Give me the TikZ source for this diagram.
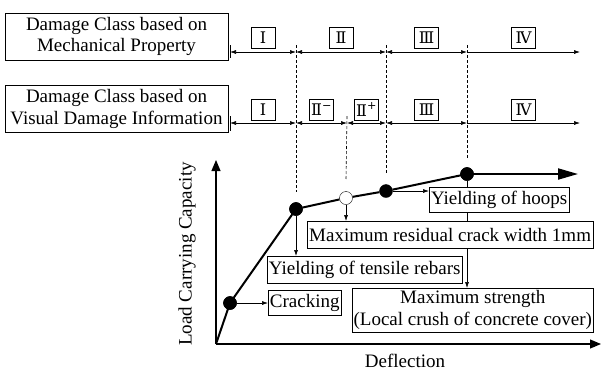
\documentclass[tikz,border=0pt]{standalone}
\usepackage{fontspec}
\setmainfont{Liberation Serif}
\newfontfamily\numfont{DejaVu Serif}
\usetikzlibrary{positioning,arrows.meta,calc}

\begin{document}
\begin{tikzpicture}[x=1bp,y=-1bp,
		font=\fontsize{19bp}{21.5bp}\selectfont,
		classbox/.style={draw,fill=white,align=center,minimum width=223bp,minimum height=47bp,inner sep=1pt,outer sep=0pt},
		numbox/.style={draw,inner sep=1pt,outer sep=0pt,minimum width=24bp,minimum height=21bp,font=\numfont\fontsize{16bp}{16bp}\selectfont},
		eventbox/.style={draw,fill=white,align=center,inner sep=2pt,outer sep=0pt,minimum height=25bp},
		dot/.style={circle,draw,fill,inner sep=0pt,minimum size=13bp},
		guide/.style={line width=0.6bp,dash pattern=on 3bp off 2bp},
		span/.style={{Latex[length=6bp,width=4bp]}-{Latex[length=6bp,width=4bp]},line width=0.6bp},
		lead/.style={-{Latex[length=6bp,width=4bp]},line width=0.6bp}]
		\useasboundingbox (0,0) rectangle (602,372);

		% class headers
		\node[classbox] (mech) at (116.5,36.5) {Damage Class based on\\Mechanical Property};
		\node[classbox] (visual) at (116.5,109) {Damage Class based on\\Visual Damage Information};

		% class limits
		\coordinate (m0) at (230,52);
		\coordinate (m1) at (296,52);
		\coordinate (m2) at (386,52);
		\coordinate (m3) at (467,52);
		\coordinate (m4) at (580,52);
		\coordinate (v0) at (230,123);
		\coordinate (v1) at (296,123);
		\coordinate (v2) at (347,123);
		\coordinate (v3) at (386,123);
		\coordinate (v4) at (467,123);
		\coordinate (v5) at (580,123);

		\draw[line width=0.6bp] ($(m0)+(0,-7)$) -- ($(m0)+(0,6)$);
		\draw[line width=0.6bp] ($(v0)+(0,-7)$) -- ($(v0)+(0,8)$);
		\draw[span] (m0) -- (m1);
		\draw[span] (m1) -- (m2);
		\draw[span] (m2) -- (m3);
		\draw[lead] (m3) -- (m4);
		\draw[span] (v0) -- (v1);
		\draw[span] (v1) -- (v2);
		\draw[span] (v2) -- (v3);
		\draw[span] (v3) -- (v4);
		\draw[lead] (v4) -- (v5);

		\node[numbox,above=4bp] (mI) at ($(m0)!0.5!(m1)$) {Ⅰ};
		\node[numbox,above=4bp] (mII) at ($(m1)!0.5!(m2)$) {Ⅱ};
		\node[numbox,above=4bp] (mIII) at ($(m2)!0.5!(m3)$) {Ⅲ};
		\node[numbox,above=4bp] (mIV) at ($(m3)!0.5!(m4)$) {Ⅳ};
		\node[numbox,above=3bp] (vI) at ($(v0)!0.5!(v1)$) {Ⅰ};
		\node[numbox,above=3bp] (vIIm) at ($(v1)!0.5!(v2)$) {Ⅱ\textsuperscript{−}};
		\node[numbox,above=3bp] (vIIp) at ($(v2)!0.5!(v3)$) {Ⅱ\textsuperscript{+}};
		\node[numbox,above=3bp] (vIII) at ($(v3)!0.5!(v4)$) {Ⅲ};
		\node[numbox,above=3bp] (vIV) at ($(v4)!0.5!(v5)$) {Ⅳ};

		% axes
		\coordinate (o) at (216,344);
		\draw[line width=1.1bp,-{Triangle[length=11bp,width=9bp]}] (o) -- (216,160);
		\draw[line width=1.1bp,-{Triangle[length=11bp,width=9bp]}] (o) -- (601,344);
		\node[rotate=90] (load) at (187,254) {Load Carrying Capacity};
		\node (defl) at (405,361) {Deflection};

		% curve
		\node[dot] (c) at (230,303) {};
		\node[dot] (p1) at (296,209) {};
		\node[dot,fill=white] (p2) at (346,198) {};
		\node[dot] (p3) at (386,191) {};
		\node[dot] (p4) at (467,174) {};
		\draw[guide] ($(m1)+(0,-7)$) -- ($(p1.north)+(0,-10)$);
		\draw[guide] ($(v2)+(0,-7)$) -- ($(p2.north)+(0,-12)$);
		\draw[guide] ($(m2)+(0,-7)$) -- ($(p3.north)+(0,-10)$);
		\draw[guide] ($(m3)+(0,-7)$) -- ($(p4.north)+(0,-8)$);
		\draw[line width=2bp] (o) -- (c.center) -- (p1) -- (p2) -- (p3) -- (p4.center);
		\draw[line width=2bp,-{Triangle[length=20bp,width=11bp]}] (p4.center) -- (578,174);
		\node[dot] at (c) {};
		\node[dot] at (p1) {};
		\node[dot] at (p4) {};

		% events
		\node[eventbox,anchor=north east,minimum height=44bp,inner sep=1pt] (strength) at (593,288) {Maximum strength\\(Local crush of concrete cover)};
		\draw[lead] (p4) -- (p4 |- strength.north);
		\node[eventbox,anchor=west] (crack) at ($(c)+(38,0)$) {Cracking};
		\node[eventbox,anchor=north west,minimum height=27bp] (tensile) at (267,256) {Yielding of tensile rebars};
		\node[eventbox,anchor=north east,minimum height=27bp] (residual) at (593,221) {Maximum residual crack width 1mm};
		\node[eventbox,anchor=north west] (hoops) at (429,187) {Yielding of hoops};
		\draw[lead] (c) -- (crack);
		\draw[lead] (p1) -- (p1 |- tensile.north);
		\draw[lead] (p2) -- (p2 |- residual.north);
		\draw[lead] (p3) -- (p3 -| hoops.west);
	\end{tikzpicture}
\end{document}
